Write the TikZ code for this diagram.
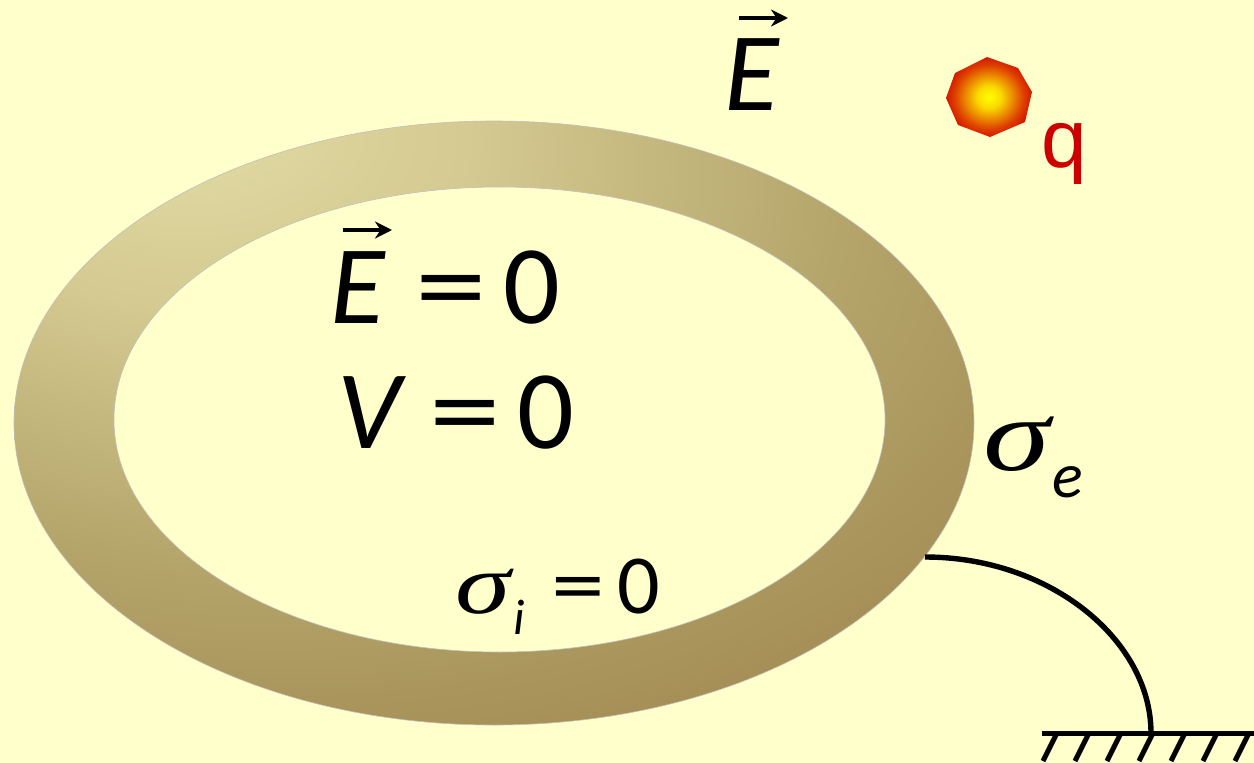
\documentclass[tikz,border=0pt]{standalone}
\usepackage{fontspec}
\setmainfont{Carlito}
\newfontfamily\qfont{Liberation Sans}
\newfontfamily\sigfont{Liberation Serif}
\definecolor{bgc}{RGB}{255,255,204}
\definecolor{redq}{RGB}{204,0,0}
\pgfdeclareradialshading{ringshade}{\pgfpoint{-17.5bp}{27bp}}{%
  rgb(0bp)=(0.89,0.87,0.65);
  rgb(14bp)=(0.83,0.79,0.57);
  rgb(30bp)=(0.71,0.65,0.42);
  rgb(45bp)=(0.64,0.55,0.33);
  rgb(60bp)=(0.55,0.45,0.22);
  rgb(100bp)=(0.55,0.45,0.22)}
\pgfdeclareradialshading{chargeshade}{\pgfpointorigin}{%
  rgb(0bp)=(1,1,0);
  rgb(7bp)=(0.98,0.85,0);
  rgb(20bp)=(0.87,0.25,0);
  rgb(28bp)=(0.8,0,0);
  rgb(50bp)=(0.8,0,0)}
\usetikzlibrary{arrows.meta}
\tikzset{
  x=1pt,y=-1pt,
  txt/.style={inner sep=0pt,anchor=base west,text=black},
  bigtxt/.style={txt,font=\fontsize{112}{112}\selectfont},
  midtxt/.style={txt,font=\fontsize{84}{84}\selectfont},
  wire/.style={black,line width=5.4pt},
  hatch/.style={black,line width=5pt},
  vecarrow/.style={black,line width=3.2pt,-{Stealth[length=17pt,width=17pt]}},
}
\newcommand{\eqsign}{\scalebox{1.28}[1]{=}}
\begin{document}
\begin{tikzpicture}
\useasboundingbox (0,0) rectangle (1254,763);
\fill[bgc] (0,0) rectangle (1254,763);
% ring
\shade[shading=ringshade] (494,423) ellipse [x radius=480,y radius=302];
\draw[black!25,line width=0.6pt] (494,423) ellipse [x radius=480,y radius=302];
\fill[bgc,draw=black!25,line width=0.6pt] (499.5,419.5) ellipse [x radius=385.5,y radius=232.5];
% charge
\shade[shading=chargeshade] (987,57)--(1018,68)--(1032,92)--(1025,122)--(990,137)--(958,125)--(946,98)--(955,73)--cycle;
% wire and ground
\coordinate (wa) at (925,557);
\coordinate (wb) at (1151,733);
\coordinate (ga) at (1042,733);
\coordinate (gb) at (1254,733);
\draw[hatch] (ga)--(gb);
\draw[wire] (wa) .. controls (1050,557) and (1151,640) .. (wb);
\foreach \i in {0,...,6}{
  \draw[hatch] (1057+32*\i,733)--(1043+32*\i,761);
}
% labels
\node[bigtxt,font=\fontsize{112}{112}\selectfont\itshape] (e1) at (724,110) {E};
\coordinate (a1s) at (739,18); \coordinate (a1e) at (788,18);
\draw[vecarrow] (a1s)--(a1e);
\node[bigtxt,font=\fontsize{112}{112}\selectfont\itshape] (e2) at (330,323) {E};
\node[bigtxt] (e2eq) at (415,323) {\eqsign};
\node[bigtxt] (e2z) at (503,323) {0};
\coordinate (a2s) at (343,230); \coordinate (a2e) at (392,230);
\draw[vecarrow] (a2s)--(a2e);
\node[bigtxt,font=\fontsize{112}{112}\selectfont\itshape] (v) at (337,448) {V};
\node[bigtxt] (veq) at (429,448) {\eqsign};
\node[bigtxt] (vz) at (517,448) {0};
\node[txt,font=\fontsize{82}{82}\selectfont\qfont,text=redq] (q) at (1041,167) {q};
\node[txt,font=\fontsize{104}{104}\selectfont\sigfont\itshape] (se) at (983,470) {\scalebox{1.3}[1]{σ}};
\node[txt,font=\fontsize{64}{64}\selectfont\itshape] (se2) at (1052,497) {e};
\node[txt,font=\fontsize{86}{86}\selectfont\sigfont\itshape] (si) at (455,613) {\scalebox{1.3}[1]{σ}};
\node[midtxt,font=\fontsize{50}{50}\selectfont\itshape] (si2) at (513,634) {i};
\node[midtxt] (si3) at (551,613) {\eqsign};
\node[midtxt] (si4) at (617,613) {0};
\end{tikzpicture}
\end{document}
